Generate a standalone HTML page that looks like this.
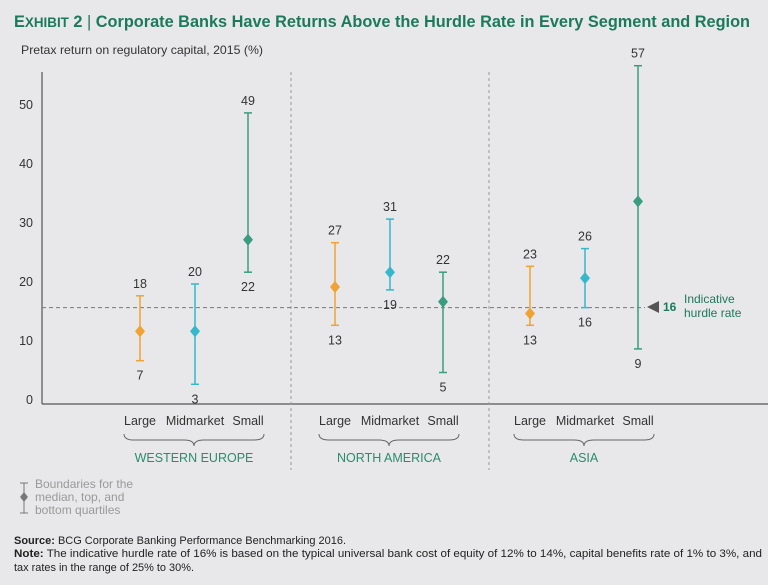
<!DOCTYPE html>
<html><head><meta charset="utf-8"><style>
body{margin:0;background:#e8e8ea;font-family:"Liberation Sans",sans-serif;}
svg{display:block}
</style></head><body>
<svg width="768" height="585" viewBox="0 0 768 585" id="chart">
<rect width="768" height="585" fill="#e8e8ea"/>
<text x="14" y="27" font-size="17" font-weight="bold" fill="#1b7a5a" textLength="736" lengthAdjust="spacingAndGlyphs">E<tspan font-size="14">XHIBIT</tspan> 2 <tspan font-weight="normal">|</tspan> Corporate Banks Have Returns Above the Hurdle Rate in Every Segment and Region</text>
<text x="21" y="54" font-size="12" fill="#333" textLength="242" lengthAdjust="spacingAndGlyphs">Pretax return on regulatory capital, 2015 (%)</text>
<line x1="42" y1="72" x2="42" y2="404" stroke="#555" stroke-width="1.2"/>
<line x1="42" y1="404" x2="768" y2="404" stroke="#555" stroke-width="1.2"/>
<line x1="291" y1="72" x2="291" y2="470" stroke="#999" stroke-dasharray="3,3"/>
<line x1="489" y1="72" x2="489" y2="470" stroke="#999" stroke-dasharray="3,3"/>
<g id="g"></g>
<polygon points="647,307 659,301 659,313" fill="#555"/>
<text x="663" y="311" font-size="12" font-weight="bold" fill="#1b7a5a">16</text>
<text x="684" y="303" font-size="12" fill="#1b7a5a">Indicative</text>
<text x="684" y="317" font-size="12" fill="#1b7a5a">hurdle rate</text>
<g>
<line x1="24" y1="483" x2="24" y2="513" stroke="#777"/><line x1="20" y1="483" x2="28" y2="483" stroke="#777"/><line x1="20" y1="513" x2="28" y2="513" stroke="#777"/>
<polygon points="24,492 28,497 24,502 20,497" fill="#777"/>
<text x="35" y="488" font-size="12" fill="#999">Boundaries for the</text>
<text x="35" y="501" font-size="12" fill="#999">median, top, and</text>
<text x="35" y="514" font-size="12" fill="#999">bottom quartiles</text>
</g>
<text x="14" y="544" font-size="11" fill="#222" textLength="332" lengthAdjust="spacingAndGlyphs"><tspan font-weight="bold">Source:</tspan> BCG Corporate Banking Performance Benchmarking 2016.</text>
<text x="14" y="557" font-size="11" fill="#222" textLength="748" lengthAdjust="spacingAndGlyphs"><tspan font-weight="bold">Note:</tspan> The indicative hurdle rate of 16% is based on the typical universal bank cost of equity of 12% to 14%, capital benefits rate of 1% to 3%, and</text>
<text x="14" y="571" font-size="11" fill="#222" textLength="180" lengthAdjust="spacingAndGlyphs">tax rates in the range of 25% to 30%.</text>
</svg>
<script>
const regions=["WESTERN EUROPE","NORTH AMERICA","ASIA"];
const segments=["Large","Midmarket","Small"];
const lows=[7,3,22,13,19,5,13,16,9];
const highs=[18,20,49,27,31,22,23,26,57];
const medians=[12,12,27.5,19.5,22,17,15,21,34];
const yTicks=[0,10,20,30,40,50];
const hurdle=16;
const colors=["#f0a233","#35b7cc","#3a9d7f"];
const NS="http://www.w3.org/2000/svg";
const g=document.getElementById('g');
function y(v){return 402-v*5.9;}
function x(i){const r=Math.floor(i/3),s=i%3;return [140,335,530][r]+[0,55,108][s];}
function el(t,a){const e=document.createElementNS(NS,t);for(const k in a)e.setAttribute(k,a[k]);g.appendChild(e);return e;}
yTicks.forEach(v=>{const t=el('text',{x:33,y:y(v)+2,'font-size':12.5,fill:'#333','text-anchor':'end'});t.textContent=v;

});
const h=el('line',{x1:42,y1:y(hurdle),x2:645,y2:y(hurdle),stroke:'#777','stroke-dasharray':'4,3'});


lows.forEach((lo,i)=>{const cx=x(i),c=colors[i%3];
const grp=el('g',{});


const mk=(t,a)=>{const e=document.createElementNS(NS,t);for(const k in a)e.setAttribute(k,a[k]);grp.appendChild(e);return e;};
mk('line',{x1:cx,y1:y(highs[i]),x2:cx,y2:y(lo),stroke:c,'stroke-width':1.5});
mk('line',{x1:cx-4,y1:y(highs[i]),x2:cx+4,y2:y(highs[i]),stroke:c,'stroke-width':1.5});
mk('line',{x1:cx-4,y1:y(lo),x2:cx+4,y2:y(lo),stroke:c,'stroke-width':1.5});
const m=y(medians[i]);
mk('polygon',{points:`${cx},${m-6} ${cx+5},${m} ${cx},${m+6} ${cx-5},${m}`,fill:c});
mk('text',{x:cx,y:y(highs[i])-8,'font-size':12.5,fill:'#333','text-anchor':'middle'}).textContent=highs[i];
mk('text',{x:cx,y:y(lo)+19,'font-size':12.5,fill:'#333','text-anchor':'middle'}).textContent=lo;
});
for(let i=0;i<9;i++){const t=el('text',{x:x(i),y:425,'font-size':12.5,fill:'#333','text-anchor':'middle'});t.textContent=segments[i%3];

}
regions.forEach((r,k)=>{const L=x(k*3)-16,R=x(k*3+2)+16,C=(L+R)/2;
const b=el('path',{d:`M${L},434 Q${L},440 ${L+10},440 L${C-10},440 Q${C},440 ${C},446 Q${C},440 ${C+10},440 L${R-10},440 Q${R},440 ${R},434`,fill:'none',stroke:'#666'});


const t=el('text',{x:C,y:462,'font-size':12.5,fill:'#2a8c6c','text-anchor':'middle'});t.textContent=r;

});
</script>
</body></html>
